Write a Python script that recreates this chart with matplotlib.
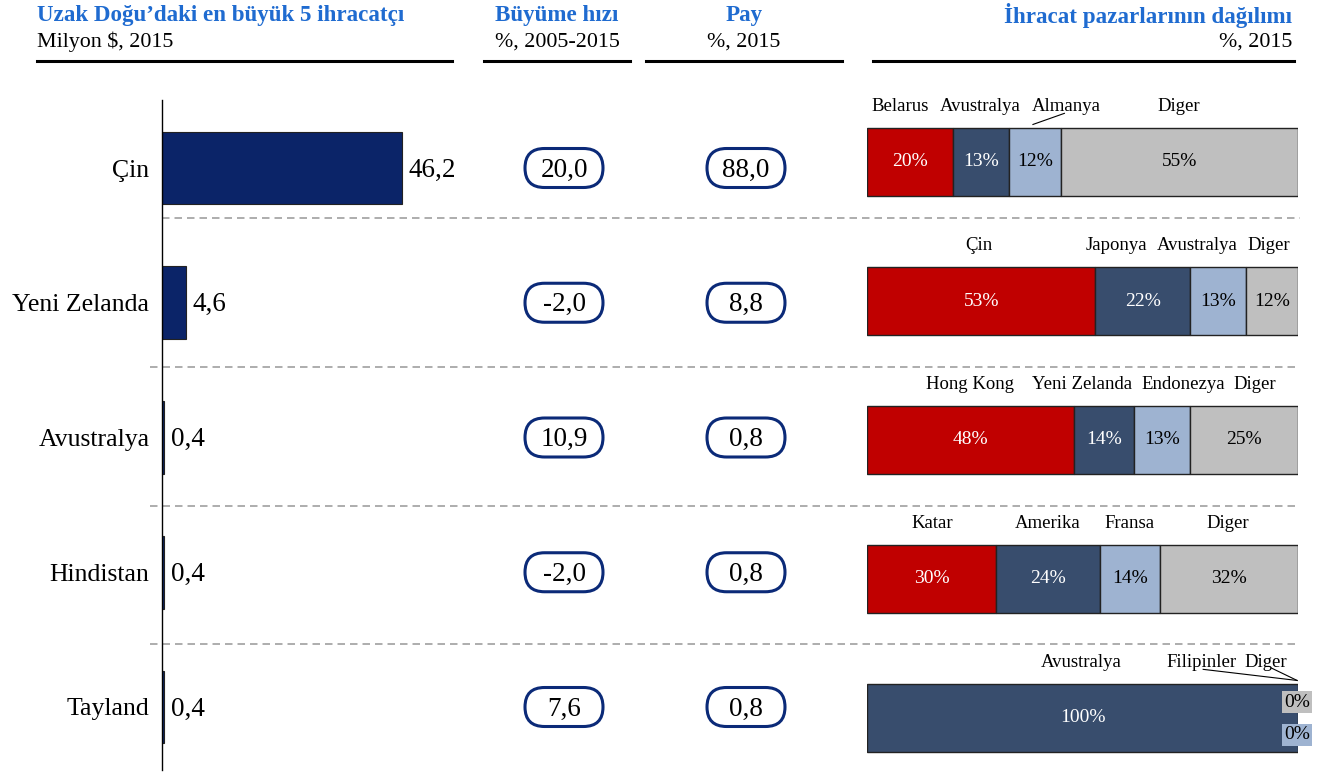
import matplotlib
matplotlib.use("Agg")
import matplotlib.pyplot as plt
from matplotlib.patches import FancyBboxPatch
from matplotlib.lines import Line2D

plt.rcParams['font.family'] = ['Liberation Serif', 'DejaVu Serif']

# ---- data ----
exporters = ["Çin", "Yeni Zelanda", "Avustralya", "Hindistan", "Tayland"]
export_value = [46.2, 4.6, 0.4, 0.4, 0.4]       # Milyon $, 2015
growth = [20.0, -2.0, 10.9, -2.0, 7.6]          # %, 2005-2015
share = [88.0, 8.8, 0.8, 0.8, 0.8]              # %, 2015

market_names = [
    ["Belarus", "Avustralya", "Almanya", "Diger"],
    ["Çin", "Japonya", "Avustralya", "Diger"],
    ["Hong Kong", "Yeni Zelanda", "Endonezya", "Diger"],
    ["Katar", "Amerika", "Fransa", "Diger"],
    ["Avustralya", "Filipinler", "Diger"],
]
market_share = [
    [20, 13, 12, 55],
    [53, 22, 13, 12],
    [48, 14, 13, 25],
    [30, 24, 14, 32],
    [100, 0, 0],
]

# ---- style / layout ----
W, H = 1321, 774
RED, SLATE, LBLUE, GREY = "#C00000", "#384D6D", "#9EB3D1", "#BFBFBF"
NAVY = "#0B2468"
BLUE_T = "#1F6BD0"
seg_colors = [[RED, SLATE, LBLUE, GREY]] * 4 + [[SLATE, LBLUE, GREY]]
txt_colors = {RED: "white", SLATE: "white", LBLUE: "black", GREY: "black"}

# x position (in %) of the market name above each segment
name_x = [
    [7.8, 26.3, 46.3, 72.3],
    [26.0, 57.8, 76.6, 93.3],
    [23.9, 49.9, 73.3, 90.0],
    [15.1, 42.0, 61.0, 83.8],
    [49.7, 77.6, 92.6],
]

def fx(p):
    return p / W

def fy(p):
    return 1 - p / H

fig = plt.figure(figsize=(W / 100, H / 100), dpi=100)

# row scales
row0, row_step = 168, 134.75
ytop, ybot = 100, 770
ylim_rows = ((ybot - row0) / row_step, (ytop - row0) / row_step)

ax_rows = fig.add_axes([0, fy(ybot), 1, (ybot - ytop) / H])
ax_rows.set_xlim(0, W)
ax_rows.set_ylim(*ylim_rows)
ax_rows.axis("off")

ax_bar = fig.add_axes([fx(162), fy(ybot), fx(300), (ybot - ytop) / H])
ax_bar.set_xlim(0, 300 / 5.19)
ax_bar.set_ylim(*ylim_rows)

mk0, mk_step = 162, 139
ax_mk = fig.add_axes([fx(867), fy(ybot), fx(431), (ybot - ytop) / H])
ax_mk.set_xlim(0, 100)
ax_mk.set_ylim((ybot - mk0) / mk_step, (ytop - mk0) / mk_step)
ax_mk.axis("off")

rows = list(range(len(exporters)))

# ---- headers ----
def header(x, title, sub, ha, x0, x1):
    fig.text(fx(x), fy(16), title, ha=ha, va="center", fontsize=16.6,
             fontweight="bold", color=BLUE_T)
    fig.text(fx(x), fy(42), sub, ha=ha, va="center", fontsize=15.8, color="black")
    fig.add_artist(Line2D([fx(x0), fx(x1)], [fy(61), fy(61)], color="black",
                          lw=2.2, transform=fig.transFigure))

header(37, "Uzak Doğu’daki en büyük 5 ihracatçı", "Milyon $, 2015", "left", 37, 452)
header(557, "Büyüme hızı", "%, 2005-2015", "center", 484, 630)
header(744, "Pay", "%, 2015", "center", 646, 842)
header(1292, "İhracat pazarlarının dağılımı", "%, 2015", "right", 873, 1294)

# ---- separators ----
sep_rows = [0.37, 1.48, 2.51, 3.53]
sep_start = [162, 150, 150, 150]
for yy, xs in zip(sep_rows, sep_start):
    ax_rows.plot([xs, 1300], [yy, yy], color="#A0A0A0", lw=1.2,
                 linestyle=(0, (4.5, 3)))

# ---- bar chart ----
ax_bar.barh(rows, export_value, height=0.54, color=NAVY, edgecolor="#222222", lw=0.8)
for r, v in zip(rows, export_value):
    ax_bar.annotate(f"{v:.1f}".replace(".", ","), (v, r + 0.015), xytext=(5, 0),
                    textcoords="offset points", ha="left", va="center", fontsize=19.5)
ax_bar.set_yticks(rows)
ax_bar.set_yticklabels(exporters, fontsize=18.5)
ax_bar.tick_params(axis="y", length=0, pad=9)
ax_bar.set_xticks([])
for s in ["top", "right", "bottom"]:
    ax_bar.spines[s].set_visible(False)
ax_bar.spines["left"].set_linewidth(1.0)
ax_bar.patch.set_alpha(0)

# ---- pills ----
pill_w, pill_h = 78, 39
for col_x, vals in [(564, growth), (746, share)]:
    for r, v in zip(rows, vals):
        hh = pill_h / row_step
        p = FancyBboxPatch((col_x - pill_w / 2, r - hh / 2), pill_w, hh,
                           boxstyle="round,pad=0,rounding_size=19.5",
                           mutation_aspect=1 / row_step,
                           fc="white", ec="#0B2A78", lw=2.2)
        ax_rows.add_patch(p)
        ax_rows.text(col_x, r + 0.015, f"{v:.1f}".replace(".", ","), ha="center",
                     va="center", fontsize=19.5)

# ---- market distribution ----
for r in rows:
    left = 0
    for name, val, col, nx in zip(market_names[r], market_share[r], seg_colors[r], name_x[r]):
        if val > 0:
            ax_mk.barh(r, val, left=left, height=0.49, color=col,
                       edgecolor="#222222", lw=1.0)
            ax_mk.text(left + val / 2, r, f"{val}%", ha="center", va="center",
                       fontsize=14, color=txt_colors[col])
        ax_mk.text(nx, r - 0.40, name, ha="center", va="center", fontsize=13.5)
        left += val

# leader lines
ax_mk.plot([38.5, 45.8], [-0.27, -0.35], color="black", lw=0.8)
ax_mk.plot([78.0, 99.8], [4 - 0.35, 4 - 0.27], color="black", lw=0.8, clip_on=False)
ax_mk.plot([93.8, 99.8], [4 - 0.36, 4 - 0.27], color="black", lw=0.8, clip_on=False)

# zero-share labels for Tayland
for val, col, dy in [(market_share[4][2], GREY, -0.115), (market_share[4][1], LBLUE, 0.12)]:
    ax_mk.text(99.8, 4 + dy, f"{val}%", ha="center", va="center", fontsize=14,
               color="black", clip_on=False,
               bbox=dict(boxstyle="square,pad=0.12", fc=col, ec="none"))

fig.savefig("out.png", dpi=100)
